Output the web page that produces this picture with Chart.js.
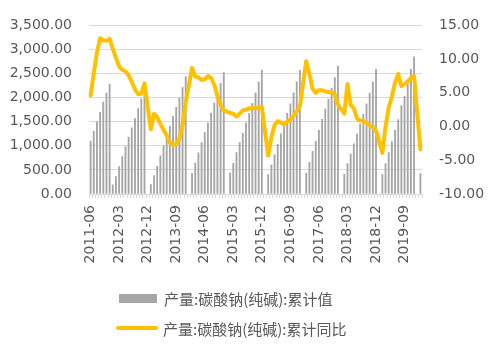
<!DOCTYPE html>
<html>
<head>
<meta charset="utf-8">
<script src="https://cdn.jsdelivr.net/npm/chart.js@4/dist/chart.umd.min.js"></script>
<style>
  body { margin: 0; background: #fff; }
  #wrap { position: relative; width: 494px; height: 353px; }
  #legend { position: absolute; left: 116px; top: 283px; font-family: "Noto Sans CJK SC", sans-serif; font-size: 15px; color: #595959; }
  .item { display: flex; align-items: center; height: 30px; }
  .swatch { margin-right: 5px; }
</style>
</head>
<body>
<div id="wrap">
  <canvas id="chart" width="494" height="353"></canvas>
  <div id="legend"></div>
</div>
<script>
// months 2011-06 .. 2020-02
const months = [];
for (let i = 0; i < 105; i++) {
    const m = 5 + i;
    months.push((2011 + Math.floor(m / 12)) + '-' + String(m % 12 + 1).padStart(2, '0'));
}

const seriesNames = ['产量:碳酸钠(纯碱):累计值', '产量:碳酸钠(纯碱):累计同比'];

// cumulative output (left axis)
const cumValue = [
    1100, 1300, 1500, 1695, 1910, 2095, 2280,
    190, 360, 567, 775, 983, 1180, 1372, 1568, 1773, 1975, 2190, null,
    195, 380, 575, 790, 1000, 1200, 1410, 1610, 1800, 1990, 2210, 2440, null,
    430, 640, 855, 1070, 1280, 1480, 1680, 1890, 2100, 2300, 2520, null,
    440, 635, 860, 1070, 1260, 1480, 1675, 1880, 2100, 2330, 2570, null,
    405, 600, 820, 1030, 1250, 1465, 1675, 1870, 2100, 2326, 2567, null,
    430, 655, 885, 1095, 1320, 1550, 1765, 1970, 2200, 2415, 2650, null,
    410, 632, 827, 1040, 1245, 1450, 1656, 1871, 2095, 2326, 2587, null,
    404, 632, 860, 1089, 1329, 1544, 1838, 2033, 2293, 2587, 2848, null,
    424
];

// cumulative YoY % (right axis)
const cumYoY = [
    4.6, 7.9, 11.0, 13.1, 12.8, 12.7, 13.0,
    11.5, 10.2, 8.9, 8.4, 8.2, 7.6, 6.6, 5.5, 4.8, 4.9, 6.4, null,
    -0.4, 1.9, 1.4, 0.4, -0.5, -1.3, -2.4, -2.7, -2.6, -1.8, 0.2, 3.6, null,
    8.7, 7.4, 7.3, 6.9, 7.0, 7.5, 7.2, 6.2, 4.5, 3.2, 2.4, null,
    2.0, 1.9, 1.5, 1.9, 2.4, 2.5, 2.7, 2.7, 2.7, 2.8, 2.9, null,
    -4.3, -1.6, 0.2, 0.8, 0.6, 0.3, 0.7, 1.1, 1.6, 2.3, 3.0, null,
    9.7, 7.8, 5.6, 5.0, 5.4, 5.4, 5.2, 5.1, 5.1, 4.8, 3.3, null,
    1.9, 6.3, 3.2, 2.7, 1.2, 0.9, 0.8, 0.5, 0.2, -0.1, -0.6, null,
    -3.9, 0.0, 2.8, 4.5, 6.5, 7.8, 6.0, 6.3, 6.7, 7.2, 7.5, null,
    -3.4
];

const textColor = '#595959';
const gridColor = '#d9d9d9';
const tickFont = { family: 'DejaVu Sans', size: 14 };

const chart = new Chart(document.getElementById('chart'), {
    data: {
        labels: months,
        datasets: [
            {
                type: 'bar',
                label: seriesNames[0],
                data: cumValue,
                backgroundColor: '#a6a6a6',
                barThickness: 1.2,
                yAxisID: 'y',
                order: 1
            },
            {
                type: 'line',
                label: seriesNames[1],
                data: cumYoY,
                borderColor: '#ffc000',
                backgroundColor: '#ffc000',
                borderWidth: 4,
                pointRadius: 0,
                spanGaps: true,
                borderJoinStyle: 'round',
                borderCapStyle: 'round',
                yAxisID: 'y1',
                order: 0
            }
        ]
    },
    options: {
        responsive: false,
        animation: false,
        devicePixelRatio: 1,
        layout: { padding: { top: 15, left: 0, right: 0, bottom: 0 } },
        plugins: {
            legend: { display: false },
            tooltip: { enabled: false }
        },
        scales: {
            x: {
                offset: true,
                grid: { drawOnChartArea: false, drawTicks: true, tickLength: 4, color: gridColor, offset: true },
                border: { color: gridColor },
                ticks: {
                    autoSkip: false,
                    minRotation: 90,
                    maxRotation: 90,
                    padding: 7,
                    color: textColor,
                    font: tickFont,
                    callback: (v, i) => (i % 9 === 0 ? months[i] : '')
                },
                afterFit: s => { s.height = 159; }
            },
            y: {
                position: 'left',
                min: 0,
                max: 3500,
                grid: { color: gridColor, drawTicks: false },
                border: { display: false },
                ticks: {
                    stepSize: 500,
                    padding: 17,
                    color: textColor,
                    font: tickFont,
                    callback: v => v.toLocaleString('en-US', { minimumFractionDigits: 2, maximumFractionDigits: 2 })
                },
                afterFit: s => { s.width = 89; }
            },
            y1: {
                position: 'right',
                min: -10,
                max: 15,
                grid: { drawOnChartArea: false, drawTicks: false },
                border: { display: false },
                ticks: {
                    stepSize: 5,
                    padding: 17,
                    color: textColor,
                    font: tickFont,
                    callback: v => v.toFixed(2)
                },
                afterFit: s => { s.width = 72; }
            }
        }
    }
});

// legend under the chart, one series per row
const legendBox = document.getElementById('legend');
chart.data.datasets.forEach(ds => {
    const row = document.createElement('div');
    row.className = 'item';
    const sw = document.createElement('span');
    sw.className = 'swatch';
    if (ds.type === 'bar') {
        sw.style.cssText = 'display:inline-block;width:38px;height:9px;margin-left:3px;margin-right:7px;background:' + ds.backgroundColor;
    } else {
        sw.style.cssText = 'display:inline-block;width:42px;height:4px;border-radius:2px;background:' + ds.borderColor;
    }
    row.appendChild(sw);
    const txt = document.createElement('span');
    txt.textContent = ds.label;
    row.appendChild(txt);
    legendBox.appendChild(row);
});
</script>
</body>
</html>
